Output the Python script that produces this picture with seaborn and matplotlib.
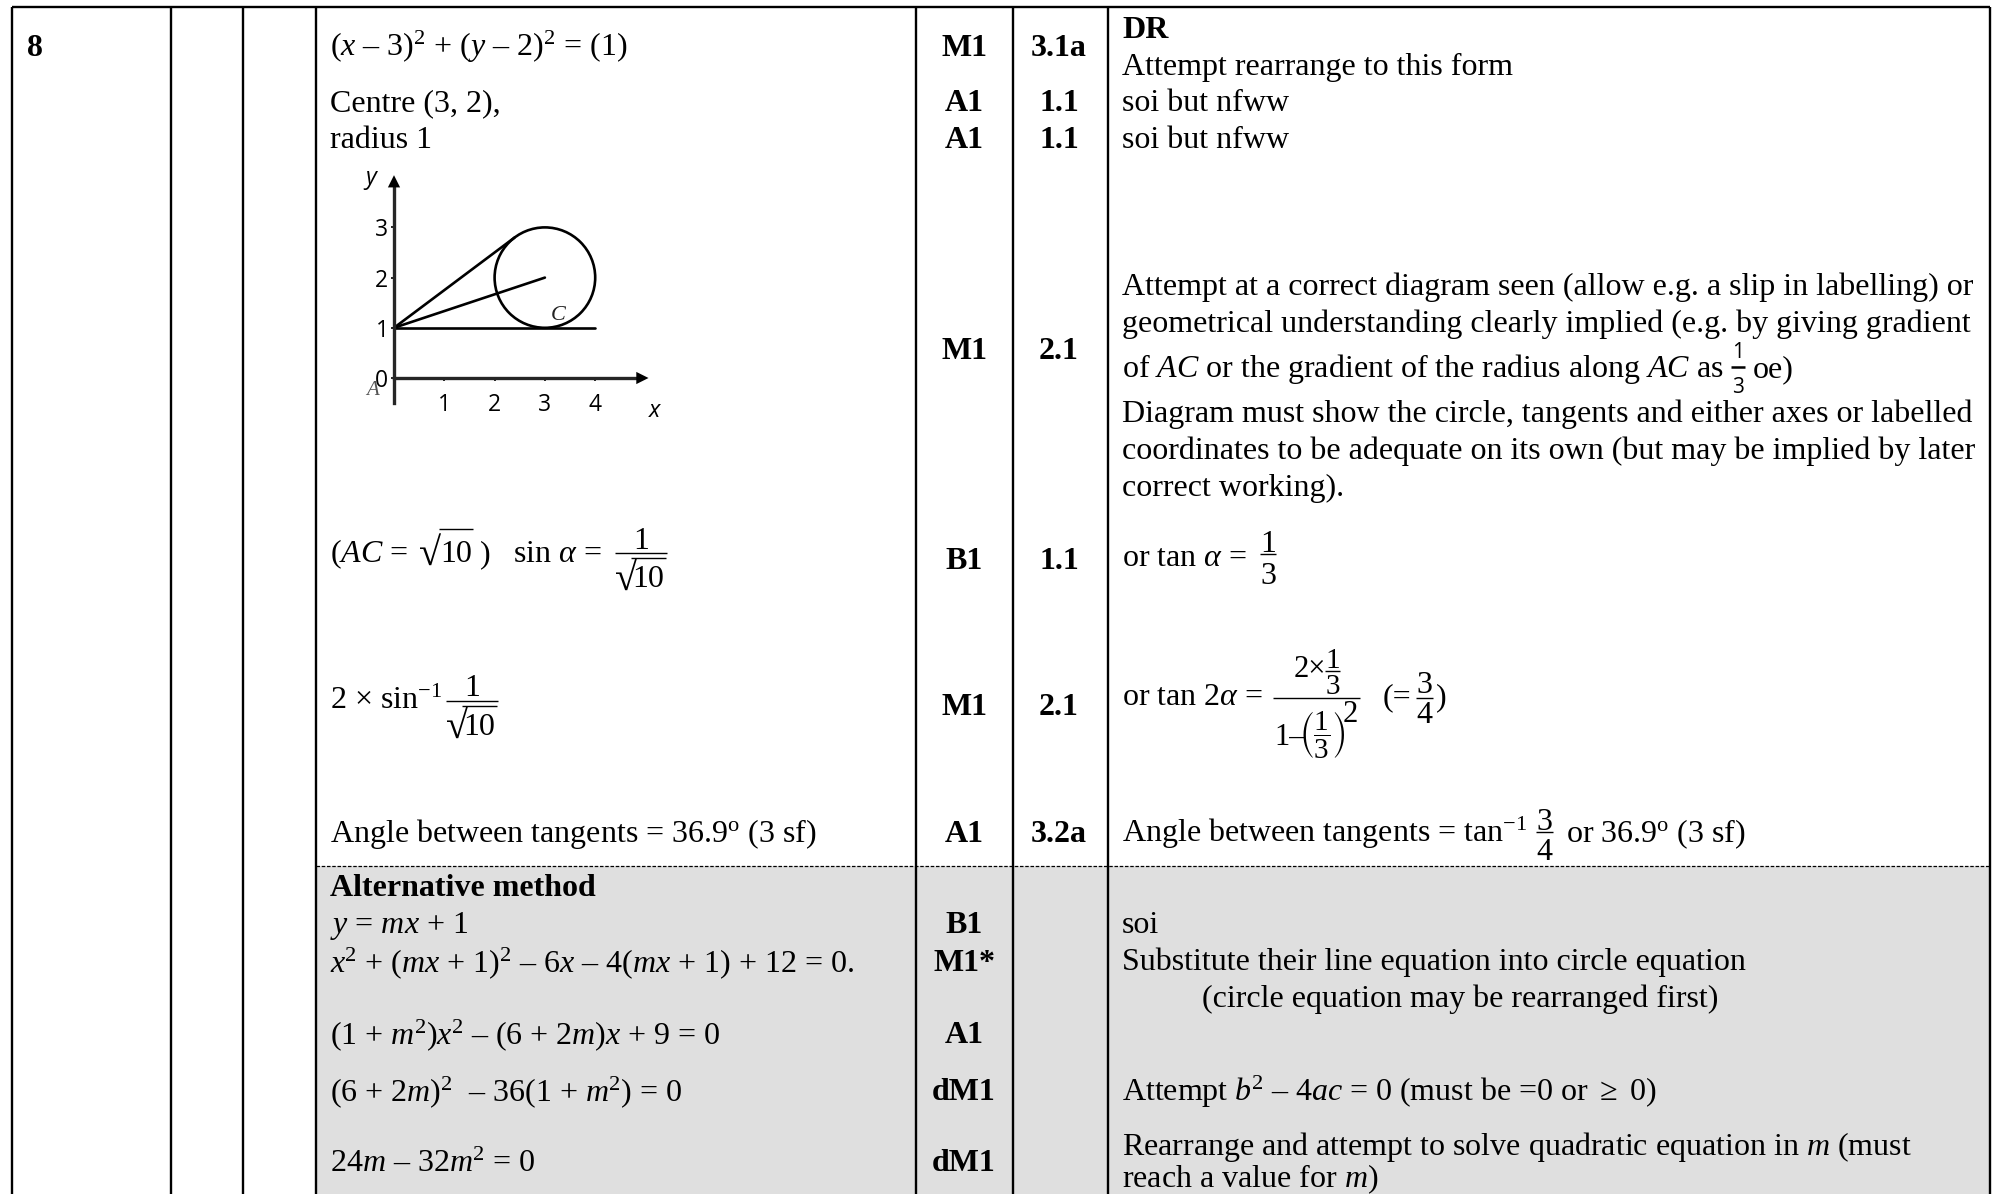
import matplotlib
matplotlib.use("Agg")
import matplotlib.pyplot as plt
from matplotlib.patches import Circle, Rectangle
import pandas as pd
import seaborn as sns

# ── Diagram values ─────────────────────────────────────────────────────────────
CENTRE = (3, 2)
RADIUS = 1
SEG_NAMES = ["upper", "upper", "radius", "radius", "lower", "lower"]
SEG_X = [0, 2.4, 0, 3, 0, 4]
SEG_Y = [1, 2.8, 1, 2, 1, 1]
X_TICKS = [1, 2, 3, 4]
Y_TICKS = [0, 1, 2, 3]

# ── Table text ─────────────────────────────────────────────────────────────────
QUESTION = "8"
ANSWERS = [
    r"($x$ – 3)$^2$ + ($y$ – 2)$^2$ = (1)",
    "Centre (3, 2),",
    "radius 1",
    r"($AC$ =",
    r"2 × sin$^{-1}$",
    r"Angle between tangents = 36.9$^{\mathrm{o}}$ (3 sf)",
    r"$y$ = $mx$ + 1",
    r"$x$$^2$ + ($mx$ + 1)$^2$ – 6$x$ – 4($mx$ + 1) + 12 = 0.",
    r"(1 + $m$$^2$)$x$$^2$ – (6 + 2$m$)$x$ + 9 = 0",
    r"(6 + 2$m$)$^2$  – 36(1 + $m$$^2$) = 0",
    r"24$m$ – 32$m$$^2$ = 0",
]
ANSWER_Y = [56, 111, 148, 562, 709, 842, 933, 972, 1044, 1101, 1172]

MARKS = ["M1", "A1", "A1", "M1", "B1", "M1", "A1", "B1", "M1*", "A1", "dM1", "dM1"]
MARK_Y = [56, 111, 148, 359, 569, 715, 842, 933, 971, 1043, 1100, 1171]
AOS = ["3.1a", "1.1", "1.1", "2.1", "1.1", "2.1", "3.2a"]
AO_Y = [56, 111, 148, 359, 569, 715, 842]

GUIDANCE = [
    "Attempt rearrange to this form",
    "soi but nfww",
    "soi but nfww",
    "Attempt at a correct diagram seen (allow e.g. a slip in labelling) or",
    "geometrical understanding clearly implied (e.g. by giving gradient",
    r"of $AC$ or the gradient of the radius along $AC$ as",
    "oe)",
    "Diagram must show the circle, tangents and either axes or labelled",
    "coordinates to be adequate on its own (but may be implied by later",
    "correct working).",
    r"or tan $\alpha$ =",
    r"or tan 2$\alpha$ =",
    r"Angle between tangents = tan$^{-1}$",
    r"or 36.9$^{\mathrm{o}}$ (3 sf)",
    "soi",
    "Substitute their line equation into circle equation",
    "(circle equation may be rearranged first)",
    r"Attempt $b$$^2$ – 4$ac$ = 0 (must be =0 or $\geq$ 0)",
    r"Rearrange and attempt to solve quadratic equation in $m$ (must",
    r"reach a value for $m$)",
]
GUIDANCE_X = [1122, 1122, 1122, 1122, 1122, 1122, 1753, 1122, 1122, 1122,
              1122, 1122, 1122, 1566, 1122, 1122, 1202, 1122, 1122, 1122]
GUIDANCE_Y = [75, 111, 148, 295, 332, 377, 377, 422, 459, 496,
              566, 705, 842, 842, 933, 970, 1007, 1101, 1155, 1187]

# ── Style ──────────────────────────────────────────────────────────────────────
W, H = 1995, 1194
FS = 23
GREY = "#DFDFDF"
RULE_XS = [12, 171, 243, 316, 916, 1013, 1108, 1990]

sns.set_theme(style="white")
plt.rcParams["font.family"] = ["Liberation Serif", "DejaVu Serif"]
plt.rcParams["mathtext.fontset"] = "custom"
plt.rcParams["mathtext.rm"] = "Liberation Serif"
plt.rcParams["mathtext.it"] = "Liberation Serif:italic"
plt.rcParams["mathtext.bf"] = "Liberation Serif:bold"
plt.rcParams["mathtext.fallback"] = "stix"

fig = plt.figure(figsize=(W / 100, H / 100), dpi=100, facecolor="white")
ax = fig.add_axes([0, 0, 1, 1])
ax.set_xlim(0, W)
ax.set_ylim(H, 0)
ax.axis("off")

# ── Table frame ────────────────────────────────────────────────────────────────
ax.add_patch(Rectangle((316, 866), 1990 - 316, H - 866, color=GREY, lw=0, zorder=0))
ax.vlines(RULE_XS, 7, H, color="black", lw=1.7, zorder=3)
ax.hlines(7, 12, 1990, color="black", lw=1.7, zorder=3)
ax.hlines(866, 316, 1990, color="black", lw=0.9, ls=(0, (2.8, 1.4)), zorder=2)


def put(x, y, s, **kw):
    kw.setdefault("fontsize", FS)
    kw.setdefault("va", "baseline")
    kw.setdefault("color", "black")
    ax.text(x, y, s, **kw)


def frac(x0, x1, y_bar, num, y_num, den, y_den, fs=FS, lw=1.0, **kw):
    ax.hlines(y_bar, x0, x1, color="black", lw=lw)
    xc = (x0 + x1) / 2
    put(xc, y_num, num, ha="center", fontsize=fs, **kw)
    if den:
        put(xc, y_den, den, ha="center", fontsize=fs, **kw)


def root10(x_sign, x_bar0, x_bar1, y_bar, y_base):
    put(x_sign, y_base + 3, "√", fontsize=FS + 6)
    ax.hlines(y_bar, x_bar0, x_bar1, color="black", lw=1.0)
    put((x_bar0 + x_bar1) / 2, y_base, "10", ha="center")


put(27, 56, QUESTION, fontweight="bold")
for s, y in zip(ANSWERS, ANSWER_Y):
    put(330, y, s)
put(330, 896, "Alternative method", fontweight="bold")
for s, y in zip(MARKS, MARK_Y):
    put(964, y, s, fontweight="bold", ha="center")
for s, y in zip(AOS, AO_Y):
    put(1059, y, s, fontweight="bold", ha="center")
put(1122, 38, "DR", fontweight="bold")
for s, x, y in zip(GUIDANCE, GUIDANCE_X, GUIDANCE_Y):
    put(x, y, s)

# radicals and fractions set apart from their lines
root10(419, 439, 473, 529, 562)
put(480, 562, ")")
put(513, 562, r"sin $\alpha$ =")
frac(615, 667, 553, "1", 549, "", 0)
root10(615, 631, 666, 558, 587)
frac(446, 498, 701, "1", 696, "", 0)
root10(446, 462, 497, 706, 735)

frac(1260, 1276, 554, "1", 552, "3", 584)
frac(1416, 1433, 698, "3", 693, "4", 723)
put(1383, 705, "(=")
put(1436, 705, ")")
frac(1536, 1553, 832, "3", 830, "4", 860)
frac(1731, 1745, 367, "1", 358, "3", 393, fs=15, lw=1.8, family="Open Sans")

# the double-decker fraction for tan 2 alpha
ax.hlines(698, 1273, 1360, color="black", lw=1.0)
put(1294, 677, "2×", fontsize=FS - 1)
frac(1325, 1340, 671, "1", 668, "3", 694, fs=FS - 2)
put(1274, 745, "1–", fontsize=FS - 1)
put(1322, 745, r"$\left(\dfrac{1}{3}\right)$", ha="center", fontsize=FS - 2)
put(1343, 722, "2", fontsize=FS - 1)

# ── Sketch of the circle and tangents ──────────────────────────────────────────
PX_X, PX_Y = 50.3, 50.2
X0_PX, Y0_PX = 394, 378
XLIM = (-0.6, 5.2)
YLIM = (-0.6, 4.1)
left = (X0_PX + XLIM[0] * PX_X) / W
right = (X0_PX + XLIM[1] * PX_X) / W
bottom = 1 - (Y0_PX - YLIM[0] * PX_Y) / H
top = 1 - (Y0_PX - YLIM[1] * PX_Y) / H

inset = fig.add_axes([left, bottom, right - left, top - bottom])
inset.patch.set_alpha(0)
inset.set_xlim(*XLIM)
inset.set_ylim(*YLIM)

segments = pd.DataFrame({"segment": SEG_NAMES, "x": SEG_X, "y": SEG_Y})
sns.lineplot(data=segments, x="x", y="y", units="segment", estimator=None,
             color="black", lw=1.9, sort=False, ax=inset)
inset.add_patch(Circle(CENTRE, RADIUS, fill=False, ec="black", lw=1.9))

inset.spines[["top", "right"]].set_visible(False)
inset.spines["left"].set_position(("data", 0))
inset.spines["bottom"].set_position(("data", 0))
inset.spines["left"].set_bounds(-0.5, 3.9)
inset.spines["bottom"].set_bounds(0, 4.9)
inset.spines["left"].set_linewidth(2.4)
inset.spines["bottom"].set_linewidth(2.4)
inset.set_xticks(X_TICKS, labels=[str(v) for v in X_TICKS], family="Open Sans", fontsize=16.5)
inset.set_yticks(Y_TICKS, labels=[str(v) for v in Y_TICKS], family="Open Sans", fontsize=16.5)
inset.tick_params(axis="both", direction="out", length=2, width=1.2, color="black",
                  labelcolor="black", left=True, bottom=True)
inset.tick_params(axis="x", pad=9)
inset.tick_params(axis="y", pad=2)
inset.set_xlabel("")
inset.set_ylabel("")
inset.annotate("", xy=(5.06, 0), xytext=(4.6, 0),
               arrowprops=dict(arrowstyle="-|>", color="black", lw=0, mutation_scale=22,
                               shrinkA=0, shrinkB=0))
inset.annotate("", xy=(0, 4.04), xytext=(0, 3.6),
               arrowprops=dict(arrowstyle="-|>", color="black", lw=0, mutation_scale=22,
                               shrinkA=0, shrinkB=0))

put(371, 184, "y", family="Open Sans", style="italic", fontsize=17, ha="center")
put(655, 417, "x", family="Open Sans", style="italic", fontsize=17, ha="center")
put(373, 395, "A", style="italic", fontsize=15, ha="center", color="#555555")
put(558, 320, "C", style="italic", fontsize=16, ha="center", color="#222222")

fig.savefig("out.png", dpi=100)
plt.close(fig)
